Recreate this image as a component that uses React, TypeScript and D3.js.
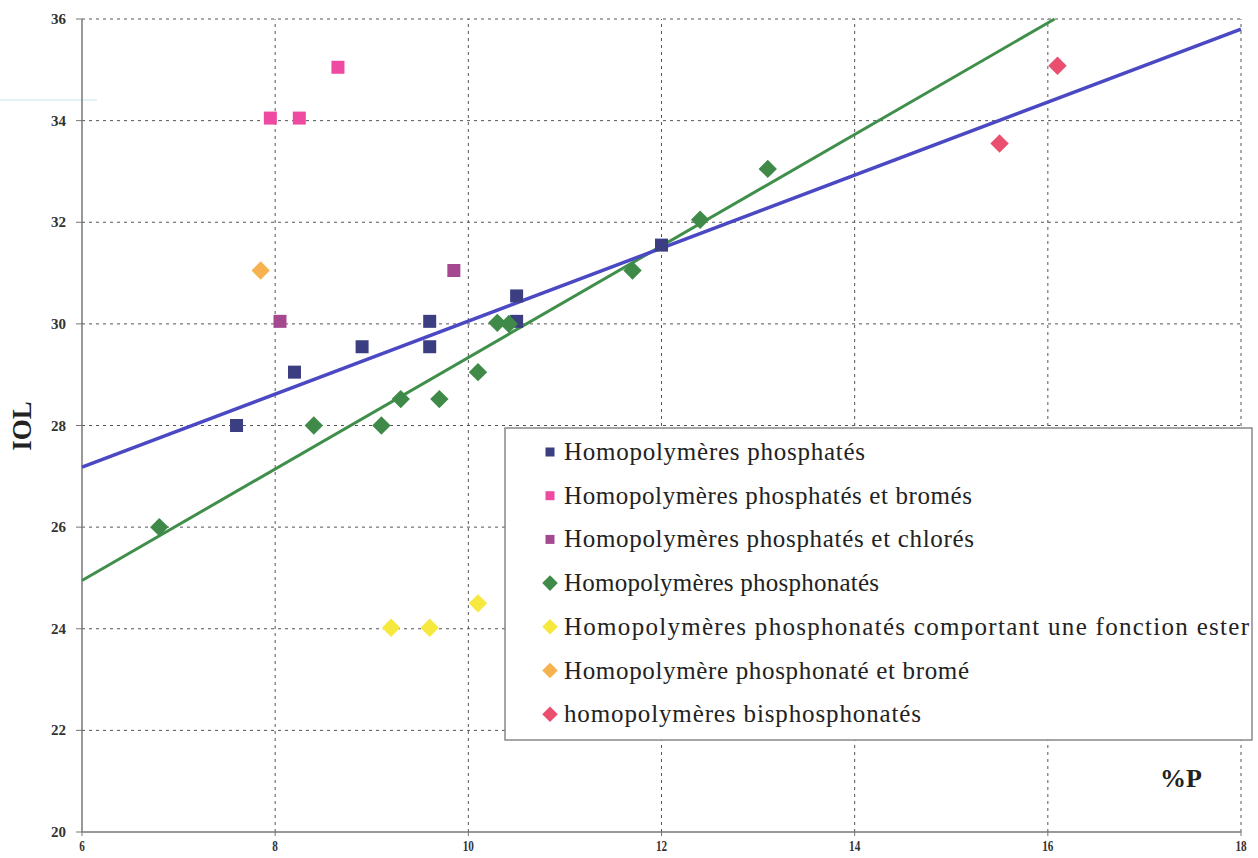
import React from "react";
import * as d3 from "d3";

type Pt = [number, number];

const phosphates: Pt[] = [[7.6, 28], [8.2, 29.05], [8.9, 29.55], [9.6, 30.05], [9.6, 29.55], [10.5, 30.55], [10.5, 30.05], [12.0, 31.55]];
const phosphatesBromes: Pt[] = [[7.95, 34.05], [8.25, 34.05], [8.65, 35.05]];
const phosphatesChlores: Pt[] = [[8.05, 30.05], [9.85, 31.05]];
const phosphonates: Pt[] = [[6.8, 26], [8.4, 28], [9.1, 28], [9.3, 28.52], [9.7, 28.52], [10.1, 29.05], [10.3, 30.02], [10.42, 30.0], [11.7, 31.05], [12.4, 32.05], [13.1, 33.05]];
const phosphonatesEster: Pt[] = [[9.2, 24.02], [9.6, 24.02], [10.1, 24.5]];
const phosphonateBrome: Pt[] = [[7.85, 31.05]];
const bisphosphonates: Pt[] = [[15.5, 33.55], [16.1, 35.08]];

const blueTrend: Pt[] = [[6, 27.18], [18, 35.8]];
const greenTrend: Pt[] = [[6, 24.95], [16.07, 36]];

const xTicks = [6, 8, 10, 12, 14, 16, 18];
const yTicks = [20, 22, 24, 26, 28, 30, 32, 34, 36];

const seriesNames = [
  "Homopolymères phosphatés",
  "Homopolymères phosphatés et bromés",
  "Homopolymères phosphatés et chlorés",
  "Homopolymères phosphonatés",
  "Homopolymères phosphonatés comportant une fonction ester",
  "Homopolymère phosphonaté et bromé",
  "homopolymères bisphosphonatés",
];
const seriesData = [phosphates, phosphatesBromes, phosphatesChlores, phosphonates, phosphonatesEster, phosphonateBrome, bisphosphonates];
const seriesColors = ["#3b3f82", "#ef4aa2", "#a4498f", "#3f8a48", "#f7e83e", "#f5b24f", "#ea4f70"];
const seriesShapes = ["square", "square", "square", "diamond", "diamond", "diamond", "diamond"];
const legendTextWidths = [301, 408, 410, 315, 685, 405, 357];

export default function App() {
  const W = 1258, H = 858;
  const x = d3.scaleLinear().domain([6, 18]).range([82, 1241]);
  const y = d3.scaleLinear().domain([20, 36]).range([832, 19]);
  const line = d3.line<Pt>().x(d => x(d[0])).y(d => y(d[1]));
  const serif = "'Liberation Serif', 'Times New Roman', 'DejaVu Serif', serif";

  const marker = (shape: string, cx: number, cy: number, color: string, key: string, s = 13) =>
    shape === "square" ? (
      <rect key={key} x={cx - s / 2} y={cy - s / 2} width={s} height={s} fill={color} />
    ) : (
      <rect key={key} x={cx - s / 2} y={cy - s / 2} width={s} height={s} fill={color} transform={`rotate(45 ${cx} ${cy})`} />
    );

  const legX = 505, legY = 428, legW = 747, legH = 312;
  const legRow = (i: number) => 452 + i * 43.7;

  return (
    <svg width={W} height={H} style={{ position: "absolute", left: 0, top: 0, background: "#fff" }}>
      <rect width={W} height={H} fill="#fff" />
      <line x1={0} x2={97} y1={100} y2={100} stroke="#d8f0f0" strokeWidth={1.5} />
      {yTicks.filter(t => t > 20).map(t => (
        <line key={"gy" + t} x1={x(6)} x2={x(18)} y1={y(t)} y2={y(t)} stroke="#555" strokeWidth={1} strokeDasharray="3,4" />
      ))}
      {xTicks.filter(t => t > 6).map(t => (
        <line key={"gx" + t} x1={x(t)} x2={x(t)} y1={y(20)} y2={y(36)} stroke="#555" strokeWidth={1} strokeDasharray="3,4" />
      ))}
      <line x1={x(6)} x2={x(6)} y1={y(20)} y2={y(36)} stroke="#777" strokeWidth={1.5} />
      <line x1={x(6)} x2={x(18)} y1={y(20)} y2={y(20)} stroke="#777" strokeWidth={1.5} />
      {yTicks.map(t => (
        <g key={"ty" + t}>
          <line x1={x(6) - 6} x2={x(6)} y1={y(t)} y2={y(t)} stroke="#777" />
          <text x={66} y={y(t) + 5} textAnchor="end" fontFamily={serif} fontWeight="bold" fontSize={15} fill="#333">{t}</text>
        </g>
      ))}
      {xTicks.map(t => (
        <g key={"tx" + t}>
          <line x1={x(t)} x2={x(t)} y1={y(20)} y2={y(20) + 4} stroke="#777" />
          <text x={x(t)} y={851} textAnchor="middle" fontFamily={serif} fontWeight="bold" fontSize={14} fill="#333" transform={`translate(${x(t)} 0) scale(0.8 1) translate(${-x(t)} 0)`}>{t}</text>
        </g>
      ))}
      <path d={line(greenTrend) || ""} stroke="#3f8f4a" strokeWidth={3} fill="none" />
      <path d={line(blueTrend) || ""} stroke="#4a48c2" strokeWidth={3.5} fill="none" />
      {seriesData.map((data, si) =>
        data.map((d, i) => marker(seriesShapes[si], x(d[0]), y(d[1]), seriesColors[si], `p${si}-${i}`, 13))
      )}
      <rect x={legX} y={legY} width={legW} height={legH} fill="#fff" stroke="#888" strokeWidth={1.5} />
      {seriesNames.map((name, i) => (
        <g key={"leg" + i}>
          {marker(seriesShapes[i], 550, legRow(i), seriesColors[i], "lm" + i, seriesShapes[i] === "square" ? 9 : 11)}
          <text x={564} y={legRow(i) + 8} fontFamily={serif} fontSize={25} fill="#222" textLength={legendTextWidths[i]} lengthAdjust="spacing">{name}</text>
        </g>
      ))}
      <text transform="translate(31 426) rotate(-90)" textAnchor="middle" fontFamily={serif} fontWeight="bold" fontSize={27} fill="#222">IOL</text>
      <text x={1181} y={787} textAnchor="middle" fontFamily={serif} fontWeight="bold" fontSize={26} fill="#222">%P</text>
    </svg>
  );
}
